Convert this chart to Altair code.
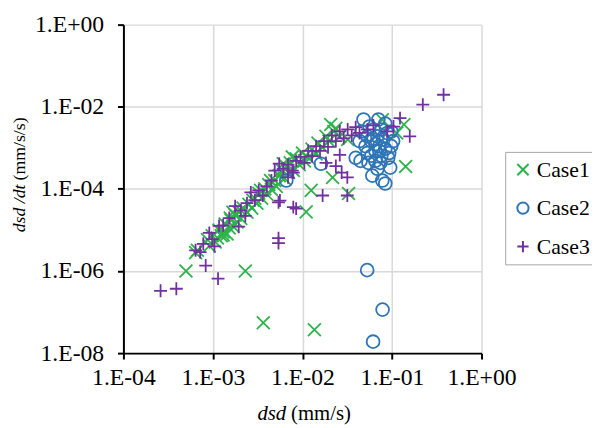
import altair as alt
import pandas as pd

cases = ["Case1", "Case2", "Case3"]
case_colors = ["#2db34b", "#2e75b6", "#7030a0"]

case1_x = [5.0e-4, 6.4e-4, 6.7e-4, 8.7e-4, 9.8e-4, 1.12e-3, 1.17e-3, 1.30e-3, 1.37e-3, 1.52e-3,
           1.59e-3, 1.67e-3, 1.77e-3, 1.86e-3, 1.95e-3, 2.05e-3, 2.17e-3, 2.3e-3, 2.4e-3, 2.52e-3,
           2.72e-3, 2.94e-3, 3.1e-3, 3.25e-3, 3.5e-3, 3.65e-3, 3.79e-3, 4.0e-3, 4.2e-3, 4.5e-3,
           4.9e-3, 5.1e-3, 5.5e-3, 6.0e-3, 6.3e-3, 6.6e-3, 7.3e-3, 7.9e-3, 8.5e-3, 9.2e-3,
           1.0e-2, 1.1e-2, 1.19e-2, 1.25e-2, 1.28e-2, 1.42e-2, 1.49e-2, 1.66e-2, 1.83e-2, 1.98e-2,
           2.17e-2, 2.24e-2, 2.36e-2, 2.61e-2, 3.27e-2, 3.2e-2, 7.8e-2, 1.36e-1, 1.13e-1, 1.42e-1,
           1.36e-2, 2.07e-2, 9.1e-4, 1.06e-3, 1.24e-3, 1.44e-3, 2.05e-3, 2.8e-3, 3.4e-3, 4.4e-3,
           7.0e-3, 1.67e-3, 1.05e-2, 7.7e-3, 1.56e-3, 1.3e-3, 6.1e-3]
case1_y = [1.0e-6, 2.8e-6, 3.2e-6, 5.8e-6, 7.2e-6, 6.4e-6, 1.0e-5, 8.9e-6, 1.4e-5, 1.12e-5,
           1.74e-5, 1.24e-5, 2.3e-5, 1.56e-5, 2.7e-5, 1.9e-5, 3.4e-5, 1.0e-6, 2.7e-5, 4.2e-5,
           3.4e-5, 5.9e-5, 4.5e-5, 7.8e-5, 5.9e-5, 5.5e-8, 1.0e-4, 7.4e-5, 1.28e-4, 9.7e-5,
           1.6e-4, 1.15e-4, 2.1e-4, 2.8e-4, 1.8e-4, 3.5e-4, 4.3e-4, 2.8e-4, 5.4e-4, 3.9e-4,
           7.5e-4, 2.75e-5, 5.4e-4, 9.2e-5, 9.3e-4, 7.1e-4, 1.3e-3, 1.05e-3, 1.9e-3, 1.46e-3,
           1.9e-4, 2.5e-3, 3.0e-3, 1.9e-3, 7.7e-5, 1.6e-3, 4.8e-3, 3.7e-3, 2.3e-3, 3.5e-4,
           3.7e-8, 3.7e-3, 4.1e-6, 5.1e-6, 7.2e-6, 8.0e-6, 3.0e-5, 5.3e-5, 9.2e-5, 1.6e-4,
           2.5e-4, 2.7e-5, 4.8e-4, 6.0e-4, 1.95e-5, 7.6e-6, 4.1e-4]

case2_x = [6.6e-3, 1.61e-2, 3.93e-2, 4.34e-2, 4.81e-2, 5.6e-2, 7.05e-2, 8.41e-2, 9.8e-2, 1.03e-1,
           4.57e-2, 5.06e-2, 5.32e-2, 5.89e-2, 6.21e-2, 6.53e-2, 6.87e-2, 7.23e-2, 7.6e-2, 8.0e-2,
           8.41e-2, 8.85e-2, 9.31e-2, 9.8e-2, 5.89e-2, 6.53e-2, 7.41e-2, 5.32e-2, 4.45e-2, 5.46e-2,
           6.04e-2, 7.8e-2, 8.41e-2, 9.55e-2, 6.87e-2, 9.08e-2, 6.21e-2, 7.6e-2, 6.53e-2, 7.23e-2,
           5.28e-2, 7.85e-2, 6.15e-2]
case2_y = [1.6e-4, 4.1e-4, 5.7e-4, 1.46e-3, 4.9e-3, 3.3e-3, 4.9e-3, 3.9e-3, 2.5e-3, 1.46e-3,
           2.5e-3, 1.1e-3, 1.9e-3, 1.46e-3, 2.8e-3, 8.4e-4, 1.9e-3, 1.1e-3, 6.4e-4, 1.6e-3,
           9.4e-4, 2.3e-3, 7.5e-4, 1.1e-3, 6.4e-4, 4.8e-4, 4.3e-4, 7.5e-4, 4.8e-4, 4.3e-4,
           2.1e-4, 1.6e-4, 1.35e-4, 3.3e-4, 3.1e-4, 5.7e-4, 1.6e-3, 2.8e-3, 1.23e-3, 8.4e-4,
           1.05e-6, 1.15e-7, 1.9e-8]

case3_x = [2.6e-4, 3.9e-4, 7.2e-4, 8.3e-4, 1.14e-3, 9.8e-4, 1.04e-3, 1.3e-3, 1.94e-3, 2.3e-3,
           3.6e-3, 5.4e-3, 5.4e-3, 5.4e-3, 7.9e-3, 6.9e-3, 7.9e-3, 1.68e-2, 3.17e-2, 3.17e-2,
           1.23e-1, 1.58e-1, 2.21e-1, 3.77e-1, 8.5e-3, 5.6e-3, 6.1e-3, 6.9e-3, 7.7e-3, 8.5e-3,
           9.5e-3, 1.05e-2, 1.16e-2, 1.28e-2, 1.42e-2, 1.57e-2, 1.74e-2, 1.93e-2, 2.13e-2, 2.36e-2,
           2.61e-2, 2.89e-2, 3.2e-2, 3.55e-2, 3.93e-2, 4.34e-2, 5.32e-2, 6.2e-2, 8.85e-2, 1.04e-1,
           2.61e-2, 2.36e-2, 2.74e-2, 1.83e-2, 4.5e-3, 4.0e-3, 3.25e-3, 2.94e-3, 2.4e-3, 2.05e-3,
           1.77e-3, 1.52e-3, 1.17e-3, 9.1e-4, 7.8e-4, 6.4e-4, 2.65e-3, 4.9e-3, 5.5e-3]
case3_y = [3.3e-7, 3.7e-7, 2.9e-6, 1.36e-6, 6.5e-7, 6.0e-6, 4.0e-6, 1.3e-5, 1.2e-5, 2.2e-5,
           6.9e-5, 4.8e-6, 6.3e-6, 4.7e-5, 3.6e-5, 1.9e-4, 2.5e-4, 6.9e-5, 1.9e-4, 6.9e-5,
           5.3e-3, 1.9e-3, 1.13e-2, 1.96e-2, 3.3e-5, 5.2e-5, 3.1e-4, 3.9e-4, 2.8e-4, 4.8e-4,
           6.0e-4, 4.3e-4, 8.4e-4, 6.3e-4, 1.1e-3, 8.4e-4, 1.46e-3, 1.05e-3, 2.0e-3, 1.46e-3,
           2.5e-3, 1.7e-3, 2.8e-3, 2.0e-3, 3.2e-3, 2.3e-3, 2.8e-3, 3.5e-3, 2.5e-3, 3.3e-3,
           6.7e-4, 3.6e-4, 2.5e-4, 4.3e-4, 1.6e-4, 1.15e-4, 9.2e-5, 5.3e-5, 4.5e-5, 3.0e-5,
           3.8e-5, 1.95e-5, 1.25e-5, 8.5e-6, 4.6e-6, 3.2e-6, 8.2e-5, 2.8e-4, 4.1e-4]

x_ticks = [1e-4, 1e-3, 1e-2, 1e-1, 1.0]
x_tick_labels = ["1.E-04", "1.E-03", "1.E-02", "1.E-01", "1.E+00"]
y_ticks = [1e-8, 1e-6, 1e-4, 1e-2, 1.0]
y_tick_labels = ["1.E-08", "1.E-06", "1.E-04", "1.E-02", "1.E+00"]

x_title_parts = ["dsd", "(mm/s)"]
y_title_parts = ["dsd /dt", "(mm/s/s)"]

rows = []
for k, (name, xs, ys) in enumerate([("Case1", case1_x, case1_y),
                                     ("Case2", case2_x, case2_y),
                                     ("Case3", case3_x, case3_y)]):
    for a, b in zip(xs, ys):
        rows.append({"Case": name, "dsd": a, "rate": b, "k": k})
df = pd.DataFrame(rows)

FONT = "Liberation Serif"
x_expr = "[" + ",".join("'%s'" % s for s in x_tick_labels) + "][round(log(datum.value)/LN10)+4]"
y_expr = "[" + ",".join("'%s'" % s for s in y_tick_labels) + "][round(log(datum.value)/LN10/2)+4]"

shapes = ["M-1,-1L1,1M-1,1L1,-1", "circle", "M-1,0L1,0M0,-1L0,1"]

leg = alt.Legend(orient="none", legendX=387, legendY=129, title=None, padding=7,
                 strokeColor="#a6a6a6", fillColor="white", labelFont=FONT,
                 labelFontSize=22, labelColor="black", symbolSize=130,
                 symbolStrokeWidth=2, rowPadding=17, labelOffset=3)

points = alt.Chart(df).mark_point(filled=False, size=170, strokeWidth=1.8, opacity=1).encode(
    x=alt.X("dsd:Q", scale=alt.Scale(type="log", domain=[1e-4, 1.0], nice=False),
            axis=alt.Axis(values=x_ticks, labelExpr=x_expr, title=None, labelFlush=False,
                          labelPadding=7, labelOverlap=False)),
    y=alt.Y("rate:Q", scale=alt.Scale(type="log", domain=[1e-8, 1.0], nice=False),
            axis=alt.Axis(values=y_ticks, labelExpr=y_expr, title=None, labelFlush=False,
                          labelPadding=14, labelOverlap=False)),
    color=alt.Color("Case:N", scale=alt.Scale(domain=cases, range=case_colors), legend=leg),
    shape=alt.Shape("Case:N", scale=alt.Scale(domain=cases, range=shapes), legend=leg),
    order=alt.Order("k:Q"),
)

def label(txt, x, y, align, italic, size, angle=0):
    return alt.Chart(pd.DataFrame({"t": [txt]})).mark_text(
        font=FONT, fontSize=size, fontStyle="italic" if italic else "normal",
        align=align, baseline="alphabetic" if angle == 0 else "middle",
        angle=angle, color="black").encode(
        x=alt.value(x), y=alt.value(y), text="t:N")

xt1 = label(x_title_parts[0], 165, 401, "right", True, 21)
xt2 = label(x_title_parts[1], 170, 401, "left", False, 21)
yt1 = label(y_title_parts[0], -105, 162, "right", True, 18, 270)
yt2 = label(y_title_parts[1], -105, 158, "left", False, 18, 270)

chart = alt.layer(points, xt1, xt2, yt1, yt2).properties(
    width=363, height=333,
    padding={"left": 117, "top": 14, "right": 112, "bottom": 71},
    autosize=alt.AutoSizeParams(type="none"),
    background="white",
).configure_view(stroke=None).configure_axis(
    grid=True, gridColor="#d9d9d9", gridWidth=1.5,
    domainColor="black", domainWidth=2, tickColor="black", tickWidth=2, tickSize=6,
    labelFont=FONT, labelFontSize=24, labelColor="black",
)

chart.save("out.html", embed_options={"renderer": "svg", "actions": False})
